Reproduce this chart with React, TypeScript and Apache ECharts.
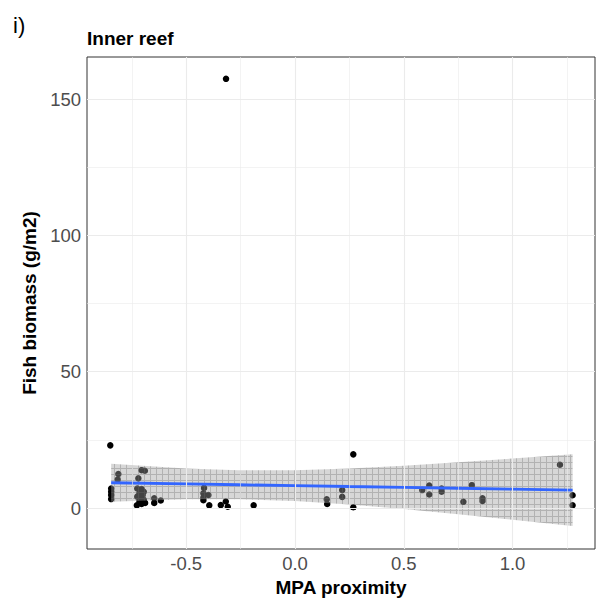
import React, { useEffect, useRef } from "react";
import * as echarts from "echarts";

// Observed points: MPA proximity (x) vs fish biomass g/m2 (y)
const pointX = [
  -0.849, -0.845, -0.845, -0.845, -0.845, -0.812, -0.815,
  -0.705, -0.69, -0.72,
  -0.725, -0.705, -0.695, -0.715, -0.7, -0.725, -0.705, -0.715, -0.695,
  -0.727, -0.705, -0.689,
  -0.647, -0.647, -0.617,
  -0.418, -0.421, -0.421, -0.398, -0.421, -0.394,
  -0.341, -0.318, -0.309, -0.317, -0.19,
  0.146, 0.148, 0.217, 0.217, 0.268, 0.268,
  0.585, 0.617, 0.617, 0.674, 0.674, 0.774, 0.813, 0.862, 0.862,
  1.218, 1.276, 1.276,
];
const pointY = [
  23.0, 7.2, 6.0, 4.8, 3.3, 12.5, 10.5,
  13.9, 13.7, 10.9,
  7.2, 7.0, 6.0, 5.5, 4.8, 4.2, 3.5, 2.6, 3.0,
  1.0, 1.5, 1.9,
  3.6, 1.9, 2.8,
  7.4, 5.4, 3.9, 4.8, 2.9, 1.0,
  1.1, 2.4, 0.5, 157.4, 1.0,
  3.2, 1.5, 6.6, 4.1, 19.7, 0.3,
  6.6, 8.3, 5.0, 7.2, 6.0, 2.3, 8.4, 3.6, 2.6,
  15.9, 4.7, 1.0,
];

// Linear fit and its confidence band
const bandX = [-0.845, -0.5, -0.26, 0, 0.25, 0.5, 0.75, 1.0, 1.276];
const fitY = [9.3, 8.87, 8.56, 8.23, 7.91, 7.6, 7.28, 6.96, 6.61];
const bandLower = [2.3, 3.25, 3.27, 2.56, 1.28, -0.37, -2.24, -4.24, -6.54];
const bandUpper = [16.3, 14.49, 13.85, 13.9, 14.54, 15.57, 16.8, 18.16, 19.76];

// Axis breaks
const yTicks = [0, 50, 100, 150];
const yMinor = [25, 75, 125];
const xTicks = [-0.5, 0, 0.5, 1.0];
const xMinor = [-0.75, -0.25, 0.25, 0.75, 1.25];

const X_MIN = -0.956;
const X_MAX = 1.379;
const Y_MIN = -15;
const Y_MAX = 165.4;

function makeBandFill(): any {
  try {
    const c = document.createElement("canvas");
    c.width = 6;
    c.height = 6;
    const ctx = c.getContext("2d");
    if (!ctx) return "rgba(153,153,153,0.4)";
    ctx.fillStyle = "rgba(160,160,160,0.42)";
    ctx.fillRect(0, 0, 6, 6);
    ctx.fillStyle = "rgba(110,110,110,0.35)";
    ctx.fillRect(0, 0, 6, 1);
    ctx.fillRect(0, 1, 1, 5);
    return { image: c.toDataURL(), repeat: "repeat" };
  } catch (e) {
    return "rgba(153,153,153,0.4)";
  }
}

export default function App() {
  const ref = useRef<HTMLDivElement>(null);
  useEffect(() => {
    if (!ref.current) return;
    const chart = echarts.init(ref.current, null, { renderer: "svg" });
    const font = "'Liberation Sans', Arial, Helvetica, sans-serif";
    const bandFill = makeBandFill();
    const gridLines: any[] = [
      ...yTicks.map((v) => ({ yAxis: v, lineStyle: { width: 1.1 } })),
      ...yMinor.map((v) => ({ yAxis: v, lineStyle: { width: 0.6 } })),
      ...xTicks.map((v) => ({ xAxis: v, lineStyle: { width: 1.1 } })),
      ...xMinor.map((v) => ({ xAxis: v, lineStyle: { width: 0.6 } })),
    ];
    chart.setOption({
      animation: false,
      backgroundColor: "#ffffff",
      textStyle: { fontFamily: font },
      graphic: [
        {
          type: "text",
          left: 13,
          top: 14,
          style: { text: "i)", fontSize: 22, fontFamily: font, fill: "#000" },
        },
        {
          type: "text",
          x: 87,
          y: 38.5,
          style: {
            text: "Inner reef",
            fontSize: 19,
            fontWeight: "bold",
            fontFamily: font,
            fill: "#000",
            verticalAlign: "middle",
          },
        },
      ],
      grid: {
        left: 87,
        right: 2,
        top: 57,
        bottom: 58,
        show: true,
        borderColor: "#333333",
        borderWidth: 1,
        backgroundColor: "transparent",
        containLabel: false,
      },
      xAxis: {
        type: "value",
        min: X_MIN,
        max: X_MAX,
        name: "MPA proximity",
        nameLocation: "middle",
        nameGap: 27,
        nameTextStyle: { fontSize: 19, fontWeight: "bold", color: "#000", fontFamily: font },
        axisLine: { show: false },
        axisTick: { show: true, length: 4, lineStyle: { color: "#333" }, customValues: xTicks },
        axisLabel: {
          customValues: xTicks,
          fontSize: 18.5,
          color: "#4D4D4D",
          margin: 5,
          fontFamily: font,
          formatter: (v: number) => v.toFixed(1),
        },
        splitLine: { show: false },
        minorSplitLine: { show: false },
      },
      yAxis: {
        type: "value",
        min: Y_MIN,
        max: Y_MAX,
        name: "Fish biomass (g/m2)",
        nameLocation: "middle",
        nameGap: 39,
        nameTextStyle: { fontSize: 19, fontWeight: "bold", color: "#000", fontFamily: font },
        axisLine: { show: false },
        axisTick: { show: true, length: 4, lineStyle: { color: "#333" }, customValues: yTicks },
        axisLabel: {
          customValues: yTicks,
          fontSize: 18.5,
          color: "#4D4D4D",
          margin: 6,
          fontFamily: font,
        },
        splitLine: { show: false },
        minorSplitLine: { show: false },
      },
      series: [
        {
          type: "line",
          data: [],
          z: 1,
          silent: true,
          markLine: {
            silent: true,
            symbol: ["none", "none"],
            label: { show: false },
            lineStyle: { color: "#EBEBEB", type: "solid" },
            emphasis: { disabled: true },
            data: gridLines,
            animation: false,
          },
        },
        {
          type: "scatter",
          z: 2,
          symbol: "circle",
          symbolSize: 6.5,
          itemStyle: { color: "#000000", opacity: 1 },
          data: pointX.map((x, i) => [x, pointY[i]]),
        },
        {
          type: "custom",
          z: 3,
          silent: true,
          data: bandX.map((x, i) => [x, bandLower[i], bandUpper[i]]),
          encode: { x: 0, y: [1, 2] },
          renderItem: (params: any, api: any) => {
            if (params.dataIndex !== 0) return null;
            const pts: number[][] = [];
            for (let i = 0; i < bandX.length; i++) pts.push(api.coord([bandX[i], bandUpper[i]]));
            for (let i = bandX.length - 1; i >= 0; i--) pts.push(api.coord([bandX[i], bandLower[i]]));
            return {
              type: "polygon",
              shape: { points: pts },
              style: { fill: bandFill, stroke: "none" },
            };
          },
        },
        {
          type: "line",
          z: 4,
          showSymbol: false,
          symbol: "none",
          data: bandX.map((x, i) => [x, fitY[i]]),
          lineStyle: { color: "#3366FF", width: 2.8 },
        },
      ],
    });
    return () => chart.dispose();
  }, []);
  return (
    <div
      ref={ref}
      style={{ position: "fixed", left: 0, top: 0, width: 597, height: 607 }}
    />
  );
}
